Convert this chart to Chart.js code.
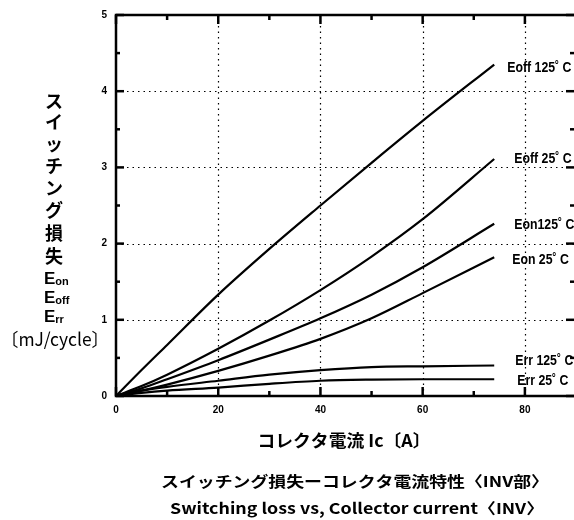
<!DOCTYPE html>
<html>
<head>
<meta charset="utf-8">
<script src="https://cdn.jsdelivr.net/npm/chart.js@4"></script>
<style>
  html, body { margin: 0; padding: 0; background: #fff; overflow: hidden; }
  #wrap { position: relative; width: 600px; height: 520px; }
</style>
</head>
<body>
<div id="wrap"><canvas id="chart" width="600" height="520"></canvas></div>
<script>
'use strict';

// Collector current Ic [A]
const IC = [0, 5, 10, 20, 30, 40, 50, 60, 74];

// Switching loss [mJ/cycle]
const EOFF_125 = [0, 0.34, 0.67, 1.33, 1.93, 2.50, 3.06, 3.61, 4.35];
const EOFF_25  = [0, 0.13, 0.28, 0.62, 0.99, 1.39, 1.83, 2.32, 3.11];
const EON_125  = [0, 0.10, 0.22, 0.47, 0.74, 1.02, 1.33, 1.69, 2.26];
const EON_25   = [0, 0.07, 0.15, 0.33, 0.53, 0.75, 1.02, 1.35, 1.82];
const ERR_125  = [0, 0.07, 0.12, 0.20, 0.28, 0.34, 0.38, 0.39, 0.40];
const ERR_25   = [0, 0.04, 0.07, 0.11, 0.16, 0.20, 0.215, 0.22, 0.22];

const SERIES = [EOFF_125, EOFF_25, EON_125, EON_25, ERR_125, ERR_25];
const NAMES = ['Eoff 125˚ C', 'Eoff 25˚ C', 'Eon125˚ C', 'Eon 25˚ C', 'Err 125˚ C', 'Err 25˚ C'];

// Axis ranges
const X_MAX = 90;
const X_STEP = 20;
const Y_MAX = 5;
const Y_STEP = 1;

// Texts
const Y_TITLE = ['ス', 'イ', 'ッ', 'チ', 'ン', 'グ', '損', '失'];
const Y_TITLE_E = [['E', 'on'], ['E', 'off'], ['E', 'rr']];
const Y_UNIT = '〔mJ/cycle〕';
const X_TITLE = 'コレクタ電流 Ic〔A〕';
const CAPTION_JA = 'スイッチング損失ーコレクタ電流特性〈INV部〉';
const CAPTION_EN = 'Switching loss vs, Collector current〈INV〉';

const JP = '"Noto Sans CJK JP", "Noto Sans", sans-serif';
const LAT = '"Liberation Sans", Arial, sans-serif';

// draw text squeezed/stretched to a given width
function fitText(ctx, text, x, y, width, font, align) {
    ctx.save();
    ctx.font = font;
    const w = ctx.measureText(text).width;
    const k = width / w;
    ctx.translate(x, y);
    ctx.scale(k, 1);
    ctx.textBaseline = 'middle';
    ctx.textAlign = align || 'left';
    ctx.fillText(text, 0, 0);
    ctx.restore();
}

const frame = {
    id: 'frame',
    beforeDatasetsDraw(chart) {
        const ctx = chart.ctx;
        const a = chart.chartArea;
        const xs = chart.scales.x, ys = chart.scales.y;
        ctx.save();
        ctx.strokeStyle = '#000';
        ctx.lineWidth = 1.2;
        ctx.setLineDash([1.5, 4]);
        for (let v = X_STEP; v < X_MAX; v += X_STEP) {
            const px = Math.round(xs.getPixelForValue(v)) + 0.5;
            ctx.beginPath(); ctx.moveTo(px, a.top); ctx.lineTo(px, a.bottom); ctx.stroke();
        }
        for (let v = Y_STEP; v < Y_MAX; v += Y_STEP) {
            const py = Math.round(ys.getPixelForValue(v)) + 0.5;
            ctx.beginPath(); ctx.moveTo(a.left, py); ctx.lineTo(a.right, py); ctx.stroke();
        }
        ctx.restore();
    },
    afterDatasetsDraw(chart) {
        const ctx = chart.ctx;
        const a = chart.chartArea;
        const xs = chart.scales.x, ys = chart.scales.y;
        ctx.save();
        ctx.strokeStyle = '#000';
        ctx.lineWidth = 2.5;
        ctx.strokeRect(a.left, a.top, a.right - a.left, a.bottom - a.top);
        // inward ticks, major and minor
        for (let v = 0; v <= X_MAX; v += X_STEP / 2) {
            const px = xs.getPixelForValue(v);
            const len = (v % X_STEP === 0) ? 9 : 5;
            ctx.beginPath(); ctx.moveTo(px, a.bottom); ctx.lineTo(px, a.bottom - len); ctx.stroke();
            ctx.beginPath(); ctx.moveTo(px, a.top); ctx.lineTo(px, a.top + len); ctx.stroke();
        }
        for (let v = 0; v <= Y_MAX; v += Y_STEP / 2) {
            const py = ys.getPixelForValue(v);
            const len = (Math.abs(v % Y_STEP) < 1e-6) ? 8 : 4;
            ctx.beginPath(); ctx.moveTo(a.left, py); ctx.lineTo(a.left + len, py); ctx.stroke();
            ctx.beginPath(); ctx.moveTo(a.right, py); ctx.lineTo(a.right - len - 2, py); ctx.stroke();
        }
        ctx.restore();

        // curve labels at the end of each line
        const nudge = [[13, 3], [20, 0], [20, 1], [18, 3], [21, -5], [23, 2]];
        ctx.save();
        ctx.fillStyle = '#000';
        SERIES.forEach((s, i) => {
            const last = s.length - 1;
            const px = xs.getPixelForValue(IC[last]) + nudge[i][0];
            const py = ys.getPixelForValue(s[last]) + nudge[i][1];
            ctx.font = 'bold 15px ' + LAT;
            ctx.textBaseline = 'middle';
            ctx.save();
            ctx.translate(px, py);
            ctx.scale(0.82, 1);
            ctx.fillText(NAMES[i], 0, 0);
            ctx.restore();
        });
        ctx.restore();
    },
    afterDraw(chart) {
        const ctx = chart.ctx;
        ctx.save();
        ctx.fillStyle = '#000';
        ctx.textAlign = 'center';
        ctx.textBaseline = 'middle';
        // vertical y-axis title
        const kanaY = [101, 122, 144, 166, 188, 210, 233, 256];
        ctx.font = 'bold 18px ' + JP;
        Y_TITLE.forEach((ch, i) => ctx.fillText(ch, 54, kanaY[i]));
        const eY = [279, 298, 317];
        Y_TITLE_E.forEach((p, i) => {
            ctx.textAlign = 'left';
            ctx.font = 'bold 17px ' + LAT;
            ctx.fillText(p[0], 44, eY[i]);
            const w = ctx.measureText(p[0]).width;
            ctx.font = 'bold 11px ' + LAT;
            ctx.fillText(p[1], 44 + w, eY[i] + 3);
        });
        fitText(ctx, Y_UNIT, 55, 339, 108, '18px ' + JP, 'center');
        fitText(ctx, X_TITLE, 344, 441, 173, 'bold 17px ' + JP, 'center');
        fitText(ctx, CAPTION_JA, 355, 481, 388, 'bold 15px ' + JP, 'center');
        fitText(ctx, CAPTION_EN, 357, 508, 374, 'bold 15px ' + JP, 'center');
        ctx.restore();
    }
};

const datasets = SERIES.map((s, i) => ({
    label: NAMES[i],
    data: IC.map((x, j) => ({ x: x, y: s[j] })),
    borderColor: '#000',
    borderWidth: 2.2,
    pointRadius: 0,
    fill: false,
    cubicInterpolationMode: 'monotone'
}));

new Chart(document.getElementById('chart'), {
    type: 'line',
    data: { datasets: datasets },
    options: {
        responsive: false,
        animation: false,
        events: [],
        layout: { padding: { top: 14, right: 24, left: 0, bottom: 0 } },
        plugins: {
            legend: { display: false },
            tooltip: { enabled: false },
            title: { display: false }
        },
        scales: {
            x: {
                type: 'linear',
                min: 0,
                max: X_MAX,
                grid: { display: false, drawTicks: false },
                border: { display: false },
                ticks: {
                    stepSize: X_STEP,
                    padding: 8,
                    color: '#000',
                    font: { family: LAT, size: 10, weight: 'bold' },
                    maxRotation: 0
                },
                afterBuildTicks(scale) {
                    scale.ticks = scale.ticks.filter(t => t.value % X_STEP === 0);
                },
                afterFit(scale) { scale.height = 124; }
            },
            y: {
                type: 'linear',
                min: 0,
                max: Y_MAX,
                grid: { display: false, drawTicks: false },
                border: { display: false },
                ticks: {
                    stepSize: Y_STEP,
                    padding: 9,
                    color: '#000',
                    font: { family: LAT, size: 10, weight: 'bold' }
                },
                afterFit(scale) { scale.width = 116; }
            }
        }
    },
    plugins: [frame]
});
</script>
</body>
</html>
